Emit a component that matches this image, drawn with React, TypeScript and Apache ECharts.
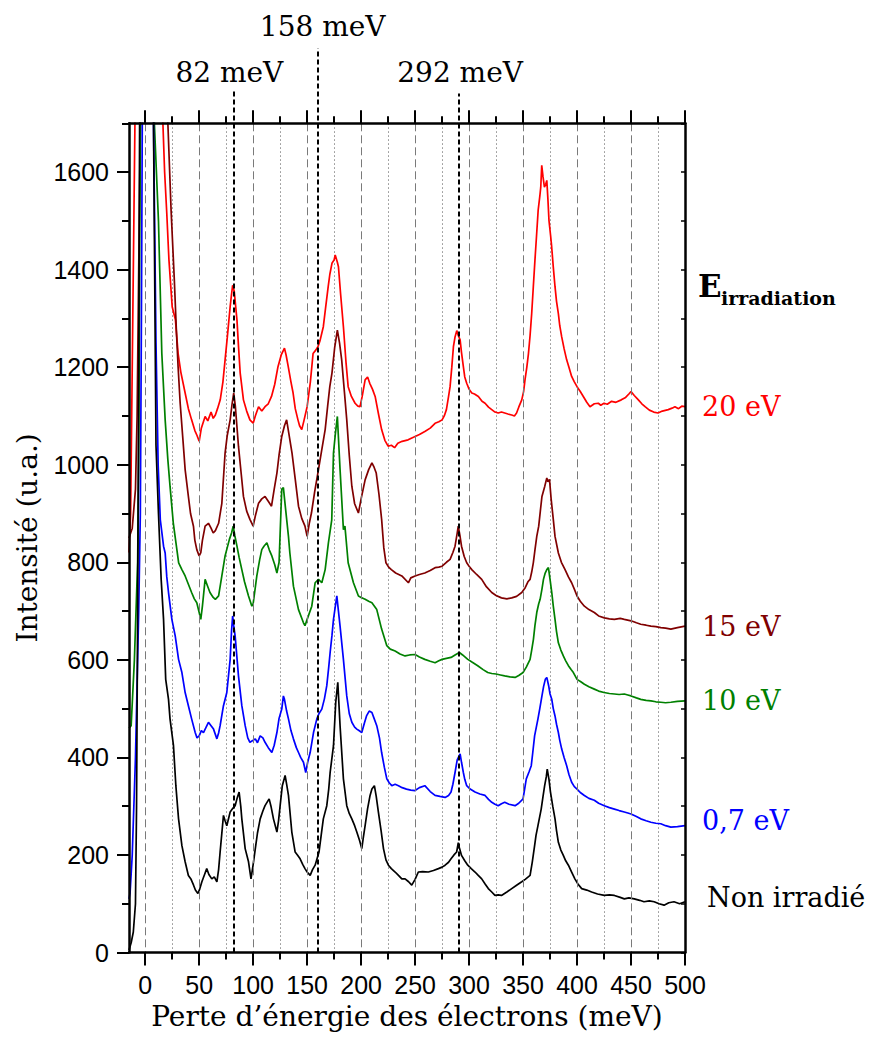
import React, { useEffect, useRef } from 'react';
import * as echarts from 'echarts';

// ---------- axes ----------
const X_MIN = -15;
const X_MAX = 500;
const Y_MIN = 0;
const Y_MAX = 1700;
const xMajorTicks = [0, 50, 100, 150, 200, 250, 300, 350, 400, 450, 500];
const xMinorTicks = [25, 75, 125, 175, 225, 275, 325, 375, 425, 475];
const yMajorTicks = [0, 200, 400, 600, 800, 1000, 1200, 1400, 1600];
const yMinorTicks = [100, 300, 500, 700, 900, 1100, 1300, 1500, 1700];
const yRightTicks = [0, 100, 200, 300, 400, 500, 600, 700, 800, 900, 1000, 1100, 1200, 1300, 1400, 1500, 1600, 1700];

const X_TITLE = 'Perte d\u2019énergie des électrons (meV)';
const Y_TITLE = 'Intensité (u.a.)';

// ---------- series ----------
const seriesNames = ['20 eV', '15 eV', '10 eV', '0,7 eV', 'Non irradié'];
const seriesColors = ['#ff0000', '#800000', '#008000', '#0000ff', '#000000'];

const spectrum20eV: [number, number][] = [
  [-15, 820], [-13.5, 900], [-11.5, 1300], [-9.5, 1700], [-7, 2200], [0, 5000],
  [14, 1900], [16.4, 1700], [18, 1600], [20, 1515], [22, 1420], [25, 1324], [28, 1297], [30.5, 1228], [33, 1190],
  [37, 1147], [40, 1115], [43, 1092], [46, 1070], [48, 1060], [50, 1048], [52, 1075], [55.5, 1099], [58, 1090],
  [61, 1108], [63, 1095], [65, 1102], [67, 1115], [69.5, 1133], [72, 1170], [74, 1215], [76, 1260], [78.7, 1324],
  [80, 1350], [81, 1368], [82.5, 1355], [85, 1297], [86.5, 1240], [88, 1188], [91, 1133], [94, 1110], [97, 1092],
  [100, 1085], [102, 1100], [105, 1119], [108, 1110], [111, 1119], [114, 1125], [117, 1140], [120, 1165], [123, 1201],
  [126, 1225], [129, 1239], [130.5, 1225], [132.5, 1201], [135, 1170], [137, 1147], [139, 1115], [141.5, 1092],
  [143, 1080], [145, 1072], [147, 1090], [150, 1119], [153, 1170], [155.5, 1228], [158, 1235], [160, 1242],
  [162, 1255], [165, 1283], [167, 1320], [169.5, 1365], [171, 1390], [173, 1413], [175, 1420], [176, 1430],
  [178, 1415], [179, 1406], [181, 1350], [183.6, 1283], [186, 1210], [188, 1160], [191, 1140], [194.4, 1126],
  [197, 1120], [199, 1119], [201, 1140], [203.7, 1174], [206, 1180], [208, 1167], [210.5, 1155], [213, 1140],
  [216, 1105], [219, 1072], [222, 1050], [225, 1038], [228, 1040], [231, 1035], [234, 1044], [238, 1048],
  [243.5, 1051], [247, 1055], [250, 1058], [254, 1062], [259, 1068], [264, 1075], [268.5, 1085], [272, 1088],
  [275, 1092], [277, 1100], [279, 1113], [281, 1140], [282.4, 1160], [284, 1200], [285.5, 1242], [287, 1262],
  [288.6, 1275], [290, 1265], [291.7, 1256], [293, 1230], [294.7, 1201], [296, 1180], [297.8, 1167], [300, 1155],
  [302.5, 1147], [305, 1145], [308.6, 1140], [312, 1130], [314.8, 1126], [318, 1118], [321, 1113], [324, 1108],
  [327, 1106], [330, 1108], [333, 1106], [336, 1104], [339.5, 1102], [342, 1100], [344, 1106], [346, 1118],
  [348.8, 1133], [350.5, 1150], [351.8, 1174], [353.5, 1200], [355, 1228], [356.5, 1265], [358, 1310], [359.5, 1365],
  [361, 1419], [362.5, 1470], [364, 1522], [365.5, 1550], [366.4, 1569], [367.3, 1614], [368.5, 1590], [369.8, 1569],
  [371, 1575], [372, 1583], [373, 1545], [374, 1501], [375.5, 1470], [376.5, 1447], [378, 1405], [379.6, 1365],
  [381, 1335], [382.7, 1310], [384, 1285], [385.8, 1262], [388, 1238], [390.4, 1215], [392.5, 1200], [395, 1181],
  [397.5, 1170], [400, 1160], [403, 1150], [405.8, 1140], [409, 1128], [412, 1119], [416, 1125], [419.7, 1126],
  [422, 1122], [425, 1126], [428, 1124], [432, 1130], [436, 1128], [441, 1133], [445, 1138], [448, 1145], [450, 1150],
  [453, 1142], [456.8, 1133], [460, 1125], [463, 1119], [467, 1112], [471, 1108], [475, 1106], [479, 1110],
  [484.5, 1113], [488, 1116], [490.7, 1119], [494, 1115], [497, 1120], [500, 1119],
];

const spectrum15eV: [number, number][] = [
  [-15, 850], [-12, 870], [-9, 950], [-7.5, 1100], [-6, 1400], [-4.5, 1700], [-3, 2200], [0, 5000],
  [18, 1900], [21, 1700], [24, 1521], [27, 1378], [29, 1269], [30.5, 1200], [32.4, 1126], [35, 1050], [37, 990],
  [40, 935], [42, 900], [44.7, 874], [46, 845], [47.8, 826], [50, 813], [51.5, 820], [53, 845], [55.5, 874],
  [58.6, 880], [61, 870], [63, 860], [65, 865], [68, 880], [71, 921], [74, 1024], [76, 1060], [78.7, 1092],
  [80.5, 1125], [82, 1147], [83.5, 1120], [86.4, 1038], [89, 980], [91, 935], [94, 905], [97, 888], [100, 874],
  [102, 895], [105, 921], [108, 930], [111, 935], [114, 925], [117, 915], [119.5, 950], [122, 983], [124, 1020],
  [126.5, 1058], [129, 1080], [131, 1092], [133, 1065], [136, 1024], [139, 970], [142, 915], [145, 890], [148, 874],
  [150, 853], [152, 880], [154, 901], [157, 945], [160.5, 990], [163.5, 1030], [166.7, 1072], [169, 1120],
  [171, 1160], [173, 1188], [175.5, 1240], [178, 1276], [180, 1250], [182, 1215], [184.5, 1150], [186.7, 1092],
  [189, 1020], [191.4, 956], [194, 920], [197.5, 901], [200, 930], [203.7, 969], [207, 990], [210, 1004], [212, 995],
  [214, 983], [216.5, 940], [219, 888], [221, 830], [223, 799], [225.5, 790], [228, 785], [232, 778], [237.7, 772],
  [243.8, 758], [246, 768], [250, 772], [254, 775], [259, 778], [264, 783], [268.5, 789], [272, 790], [275, 792],
  [279, 800], [282.4, 806], [285, 820], [287, 833], [289, 860], [290, 874], [291.5, 855], [293, 833], [295.5, 812],
  [297.8, 799], [300, 792], [302.5, 785], [307, 775], [311.7, 765], [316, 750], [321, 738], [325, 732], [330, 727],
  [335, 725], [339.5, 727], [344, 730], [348.8, 738], [352, 748], [354.5, 760], [356.5, 765], [358, 780],
  [359.5, 799], [361, 825], [362.7, 853], [364.5, 874], [366, 905], [367.5, 935], [370, 955], [372, 973], [373, 965],
  [374.5, 970], [376, 930], [378, 888], [379.6, 853], [382.7, 819], [385.5, 800], [388.9, 785], [392, 770],
  [395, 758], [397.5, 745], [400, 731], [403, 720], [406.8, 710], [411, 703], [416, 697], [420, 690], [425.3, 686],
  [430, 684], [434.6, 683], [440, 685], [443.8, 683], [450, 680], [455, 676], [459, 673], [464, 671], [468.4, 669],
  [473, 668], [477.6, 666], [482, 665], [486.9, 663], [493, 666], [500, 669],
];

const spectrum10eV: [number, number][] = [
  [-15, 460], [-13, 465], [-10, 600], [-7, 800], [-6, 1000], [-5, 1500], [-4, 1800], [0, 5000],
  [6, 1900], [8.5, 1700], [12.3, 1500], [15.4, 1228], [18.5, 1092], [21, 1010], [23, 956], [26, 881], [28.5, 840],
  [31, 799], [34, 785], [37, 772], [40, 755], [43, 738], [45.5, 725], [47.8, 717], [50, 697], [51.5, 683], [53, 710],
  [55.5, 765], [58, 750], [60, 738], [63, 728], [65, 724], [68, 731], [71, 772], [74, 813], [76, 830], [78, 847],
  [80, 860], [81.5, 874], [83, 855], [85, 833], [87, 810], [89.5, 785], [92, 760], [95.7, 731], [98.8, 710],
  [100, 715], [103.4, 772], [106, 805], [108, 826], [110, 833], [112.7, 840], [115, 825], [117.3, 813], [120, 795],
  [122, 778], [124, 800], [126.5, 950], [128, 953], [130, 910], [132.7, 853], [134, 819], [137.3, 751], [142, 703],
  [146.6, 676], [148, 670], [150, 683], [154.3, 710], [157.4, 758], [160.5, 765], [163.6, 758], [166.7, 785],
  [169.7, 840], [172.8, 887], [174.4, 1024], [176, 1060], [178, 1099], [180.5, 990], [183.6, 867], [185, 874],
  [188, 799], [192.9, 758], [197.5, 731], [200, 728], [203.7, 724], [207, 720], [210, 717], [214.5, 703], [219, 663],
  [223.8, 629], [227, 622], [231.5, 618], [236, 612], [240.7, 608], [245, 610], [250, 611], [254, 606], [259, 601],
  [264, 597], [268.5, 594], [272, 598], [275, 601], [279, 603], [283.3, 605], [287, 610], [291, 615], [294, 610],
  [298.8, 601], [303, 595], [308, 588], [313, 580], [317.3, 574], [321, 572], [325, 571], [329, 569], [333, 567],
  [338, 565], [342.6, 564], [346, 568], [350, 574], [353, 585], [356.5, 601], [358, 620], [359.6, 642], [361, 670],
  [362.7, 697], [364.5, 715], [365.8, 724], [367.5, 745], [368.9, 765], [370.5, 778], [372, 785], [373.5, 789],
  [375, 765], [376.6, 738], [378, 710], [379.6, 683], [381, 658], [382.7, 635], [385, 620], [387.3, 608],
  [389.5, 598], [392, 588], [394.5, 580], [396.6, 574], [398.5, 566], [400, 560], [403.5, 555], [406.8, 550],
  [411, 545], [416, 540], [420, 536], [425, 533], [430, 531], [434.6, 530], [439, 529], [443.8, 530], [447, 528],
  [450, 526], [455, 522], [459, 519], [464, 517], [468.4, 516], [473, 514], [477.6, 513], [482, 512], [486.9, 513],
  [493, 515], [500, 516],
];

const spectrum07eV: [number, number][] = [
  [-15, 110], [-14, 122], [-12, 200], [-9, 400], [-6, 700], [-4.5, 900], [-3.5, 1300], [-2.5, 1800], [0, 5000],
  [6, 1900], [7.7, 1700], [10, 1250], [12, 1000], [14, 887], [17, 833], [18.5, 819], [20, 770], [21.6, 738],
  [24.7, 683], [27.8, 649], [30.9, 601], [34, 574], [37, 533], [40, 506], [43, 479], [46.3, 451], [48, 440], [50, 444],
  [52, 455], [54, 451], [56, 460], [58.6, 472], [61, 465], [63.3, 458], [66.4, 438], [68, 450], [69.4, 465],
  [72.5, 506], [75.6, 533], [78.7, 601], [80, 660], [81, 690], [82, 670], [83.3, 649], [86.4, 567], [89.5, 506],
  [92.6, 465], [95, 440], [97, 431], [100, 435], [102, 438], [104, 430], [106.5, 444], [109, 440], [111, 431],
  [114, 420], [117.3, 410], [119.5, 425], [122, 451], [124, 480], [126.5, 499], [128, 526], [129, 519], [131, 495],
  [132.7, 479], [135, 455], [137.3, 438], [140, 420], [142, 410], [144, 400], [146.6, 390], [148.7, 369],
  [150.5, 390], [152.8, 410], [155.9, 451], [159, 479], [161, 490], [163.6, 499], [166, 520], [168.2, 547],
  [170, 585], [171.3, 615], [173, 650], [174.4, 683], [177.5, 731], [179, 700], [180.5, 669], [183.6, 601],
  [186.7, 526], [189, 490], [191.4, 472], [194, 462], [196, 458], [198, 455], [200.6, 451], [203, 470], [205, 485],
  [207.5, 495], [210, 492], [212, 480], [214.5, 465], [217, 440], [219, 410], [221.5, 380], [223.8, 356], [226, 348],
  [228.4, 342], [231.5, 345], [234.6, 342], [238, 338], [242, 335], [246, 333], [250, 332], [254, 338], [259, 342],
  [264, 330], [268.5, 322], [273, 320], [277.8, 318], [281, 322], [283.3, 329], [285, 345], [287, 369], [289, 395],
  [291.7, 407], [293, 390], [294.7, 369], [296, 355], [297.8, 342], [301, 335], [305.5, 329], [310, 325],
  [314.8, 322], [318, 314], [321, 308], [324, 304], [327, 301], [330, 305], [333, 308], [337, 304], [342.6, 301],
  [346, 306], [350, 315], [353, 356], [355.5, 370], [357.6, 383], [359, 410], [360.7, 444], [363.8, 479],
  [365.5, 500], [367.5, 526], [369, 545], [370.6, 560], [372, 564], [373.7, 547], [375, 530], [376.6, 519],
  [378, 500], [379.6, 485], [381, 468], [382.7, 451], [384, 435], [385.8, 417], [388, 400], [390.4, 383],
  [392.5, 365], [395, 349], [397.5, 340], [400, 335], [403, 328], [406.8, 322], [411, 316], [416, 312], [420, 306],
  [425.3, 301], [430, 297], [434.6, 294], [439, 291], [443.8, 288], [447, 286], [450, 284], [455, 279], [459, 274],
  [464, 270], [468.4, 267], [473, 265], [477.6, 264], [482, 260], [486.9, 257], [493, 258], [500, 260],
];

const spectrumNonIrr: [number, number][] = [
  [-15, 5], [-13, 20], [-11, 42], [-9, 100], [-8, 300], [-7, 700], [-6, 1200], [-5, 1800], [0, 5000],
  [6, 2000], [7.7, 1700], [10, 1040], [12.3, 900], [14.8, 765], [17, 683], [19, 560], [21.6, 519], [23, 479],
  [26.2, 424], [28.4, 342], [30.9, 274], [34, 219], [37, 186], [40, 158], [42.5, 150], [44.8, 138], [46.5, 128],
  [48.8, 121], [50.5, 130], [52.5, 145], [55, 160], [57, 172], [59, 160], [61.7, 151], [64, 155], [66.4, 145],
  [68, 170], [69.4, 206], [72.5, 281], [74, 270], [75.6, 260], [78.7, 288], [81, 295], [83.3, 301], [85, 315],
  [87, 329], [88.5, 300], [89.5, 274], [92.6, 213], [95.7, 186], [98, 151], [100, 180], [102, 213], [104, 245],
  [106.5, 274], [109, 290], [111, 301], [114.8, 315], [116.5, 300], [118.8, 274], [122, 247], [123.5, 270],
  [125, 301], [127, 342], [129.6, 363], [131, 345], [132.7, 322], [135.8, 247], [138.9, 206], [141, 200],
  [143.5, 192], [146, 180], [148, 172], [150, 165], [152.8, 158], [155, 170], [157.4, 179], [161, 206], [163, 240],
  [165, 274], [168.2, 301], [170, 335], [171.3, 369], [174.4, 424], [176.5, 513], [178.4, 554], [180.5, 465],
  [183.6, 356], [186.7, 301], [189, 285], [191.4, 274], [194, 260], [196, 247], [198.5, 230], [200.6, 213],
  [202, 235], [203.7, 260], [206, 295], [208.3, 322], [210, 335], [212.3, 342], [214, 320], [216, 288],
  [218.5, 250], [220.7, 213], [223, 190], [225.3, 179], [228, 172], [231.5, 165], [234.6, 158], [237.7, 151],
  [240.7, 151], [244, 145], [246.9, 138], [250, 150], [253, 165], [257, 166], [262.3, 165], [267, 168],
  [271.6, 172], [275, 175], [277.8, 179], [281, 185], [283.3, 192], [286, 200], [288.5, 206], [290, 225],
  [291, 215], [293, 199], [296, 188], [298.8, 179], [302, 172], [305.5, 165], [308.5, 158], [311.7, 151],
  [315, 140], [317.8, 131], [321, 124], [324, 117], [327, 118], [330, 117], [335, 124], [339.5, 131], [344, 138],
  [348.8, 145], [352, 150], [356.5, 158], [358.5, 185], [360.7, 219], [362, 240], [363.8, 260], [366.8, 294],
  [368.5, 320], [370, 342], [371.5, 360], [372.4, 376], [374, 355], [375.4, 329], [377.5, 300], [379.6, 274],
  [381, 250], [382.7, 226], [385, 210], [387.3, 199], [389.5, 188], [392, 179], [395, 165], [398, 151], [401, 140],
  [404.3, 131], [409, 128], [413.5, 124], [419, 120], [425.3, 117], [430, 118], [434.6, 117], [440, 113],
  [443.8, 110], [448, 112], [453, 110], [458, 107], [462, 104], [467, 106], [471.4, 104], [476, 100], [480.6, 97],
  [485, 102], [489.8, 104], [495, 100], [500, 104],
];

const spectra = [spectrum20eV, spectrum15eV, spectrum10eV, spectrum07eV, spectrumNonIrr];

// reference lines (meV) and their labels
const refLineX = [82, 159.5, 290];
const refLineTop = [1765, 1854, 1761];
const refLabels = ['82 meV', '158 meV', '292 meV'];
const refLabelX = [78, 164.4, 291.7];
const refLabelY = [1805, 1899, 1805];

// ---------- layout ----------
const PLOT_LEFT = 129;
const PLOT_RIGHT = 685;
const PLOT_TOP = 123.3;
const PLOT_BOTTOM = 952.5;
const CHART_W = 877;
const CHART_H = 1037;
const TALL_Y_MAX = (Y_MAX * PLOT_BOTTOM) / (PLOT_BOTTOM - PLOT_TOP);

const SERIF = '"DejaVu Serif", serif';
const SANS = '"Liberation Sans", Arial, sans-serif';
const endLabelOffsets: [number, number][] = [[0, 0], [0, 0], [0, 0], [0, -5], [5, -4]];

const plainNumber = (v: number) => String(v);

function buildOption(): any {
  const gridLine = { show: false };
  const xCommon = { type: 'value', min: X_MIN, max: X_MAX, gridIndex: 0 };
  const yCommon = { type: 'value', min: Y_MIN, max: Y_MAX, gridIndex: 0 };
  const blackLine = { color: '#000', width: 2.5 };

  return {
    animation: false,
    backgroundColor: '#fff',
    grid: [
      { left: PLOT_LEFT, top: PLOT_TOP, width: PLOT_RIGHT - PLOT_LEFT, height: PLOT_BOTTOM - PLOT_TOP, containLabel: false },
      { left: PLOT_LEFT, top: 0, width: PLOT_RIGHT - PLOT_LEFT, height: PLOT_BOTTOM, containLabel: false },
    ],
    xAxis: [
      {
        ...xCommon, position: 'bottom',
        axisLine: { show: true, onZero: false, lineStyle: blackLine },
        axisTick: { show: true, inside: false, length: 13, customValues: xMajorTicks, lineStyle: { color: '#000', width: 2 } },
        axisLabel: { show: true, customValues: xMajorTicks, formatter: plainNumber, margin: 20, fontSize: 25, fontFamily: SANS, color: '#000' },
        splitLine: { show: true, lineStyle: { color: '#7a7a7a', width: 1, type: [8, 4] } },
        name: X_TITLE, nameLocation: 'middle', nameGap: 50,
        nameTextStyle: { fontFamily: SERIF, fontSize: 28, color: '#000' },
        z: 5,
      },
      {
        ...xCommon, position: 'bottom',
        axisLine: { show: false, onZero: false },
        axisTick: { show: true, inside: false, length: 7, customValues: xMinorTicks, lineStyle: { color: '#000', width: 2 } },
        axisLabel: { show: false },
        splitLine: { show: true, lineStyle: { color: '#8a8a8a', width: 1, type: [1.5, 2.5] } },
      },
      {
        ...xCommon, position: 'top',
        axisLine: { show: true, onZero: false, lineStyle: blackLine },
        axisTick: { show: true, inside: false, length: 13, customValues: xMajorTicks, lineStyle: { color: '#000', width: 2 } },
        axisLabel: { show: false },
        splitLine: gridLine,
        z: 5,
      },
      {
        ...xCommon, position: 'top',
        axisLine: { show: false, onZero: false },
        axisTick: { show: true, inside: false, length: 7, customValues: xMinorTicks, lineStyle: { color: '#000', width: 2 } },
        axisLabel: { show: false },
        splitLine: gridLine,
      },
      { type: 'value', gridIndex: 1, min: X_MIN, max: X_MAX, show: false },
    ],
    yAxis: [
      {
        ...yCommon, position: 'left',
        axisLine: { show: true, onZero: false, lineStyle: blackLine },
        axisTick: { show: true, inside: false, length: 12, customValues: yMajorTicks, lineStyle: { color: '#000', width: 2 } },
        axisLabel: { show: true, customValues: yMajorTicks, formatter: plainNumber, margin: 20, fontSize: 25, fontFamily: SANS, color: '#000' },
        splitLine: gridLine,
        name: Y_TITLE, nameLocation: 'middle', nameGap: 88,
        nameTextStyle: { fontFamily: SERIF, fontSize: 28, color: '#000' },
        z: 5,
      },
      {
        ...yCommon, position: 'left',
        axisLine: { show: false, onZero: false },
        axisTick: { show: true, inside: false, length: 7, customValues: yMinorTicks, lineStyle: { color: '#000', width: 2 } },
        axisLabel: { show: false },
        splitLine: gridLine,
      },
      {
        ...yCommon, position: 'right',
        axisLine: { show: true, onZero: false, lineStyle: blackLine },
        axisTick: { show: true, inside: true, length: 4, customValues: yRightTicks, lineStyle: { color: '#000', width: 1.5 } },
        axisLabel: { show: false },
        splitLine: gridLine,
        z: 5,
      },
      { type: 'value', gridIndex: 1, min: 0, max: TALL_Y_MAX, show: false },
    ],
    series: [
      ...spectra.map((data, i) => ({
        type: 'line',
        name: seriesNames[i],
        data,
        xAxisIndex: 0,
        yAxisIndex: 0,
        symbol: 'none',
        showSymbol: false,
        clip: true,
        silent: true,
        z: 3,
        lineStyle: { color: seriesColors[i], width: 1.7 },
        itemStyle: { color: seriesColors[i] },
        endLabel: {
          show: true,
          formatter: seriesNames[i],
          color: seriesColors[i],
          fontFamily: SERIF,
          fontSize: 27,
          distance: 17,
          offset: endLabelOffsets[i],
        },
      })),
      {
        type: 'lines',
        coordinateSystem: 'cartesian2d',
        xAxisIndex: 4,
        yAxisIndex: 3,
        silent: true,
        z: 4,
        polyline: false,
        lineStyle: { color: '#000', width: 2, type: [5, 3], opacity: 1 },
        data: refLineX.map((x, i) => ({ coords: [[x, 0], [x, refLineTop[i]]] })),
      },
      {
        type: 'scatter',
        xAxisIndex: 4,
        yAxisIndex: 3,
        silent: true,
        symbol: 'circle',
        symbolSize: 1,
        itemStyle: { color: '#fff', opacity: 1 },
        z: 4,
        label: {
          show: true,
          position: 'inside',
          formatter: (p: any) => p.value[2],
          fontFamily: SERIF,
          fontSize: 28,
          color: '#000',
          opacity: 1,
          textBorderWidth: 0,
          textBorderColor: 'transparent',
        },
        labelLayout: { hideOverlap: false },
        data: refLabels.map((t, i) => ({ value: [refLabelX[i], refLabelY[i], t] })),
      },
    ],
    graphic: [
      {
        type: 'text',
        x: 698,
        y: 286,
        silent: true,
        style: { text: 'E', fontFamily: SERIF, fontWeight: 'bold', fontSize: 31, fill: '#000', align: 'left', verticalAlign: 'middle' },
      },
      {
        type: 'text',
        x: 721,
        y: 298,
        silent: true,
        style: { text: 'irradiation', fontFamily: SERIF, fontWeight: 'bold', fontSize: 19, fill: '#000', align: 'left', verticalAlign: 'middle' },
      },
    ],
  };
}

export default function App() {
  const ref = useRef<HTMLDivElement>(null);
  useEffect(() => {
    if (!ref.current) return;
    const chart = echarts.init(ref.current, null, { renderer: 'svg' });
    chart.setOption(buildOption());
    return () => {
      chart.dispose();
    };
  }, []);
  return (
    <div
      ref={ref}
      style={{ position: 'absolute', left: 0, top: 0, width: CHART_W, height: CHART_H, background: '#fff' }}
    />
  );
}
